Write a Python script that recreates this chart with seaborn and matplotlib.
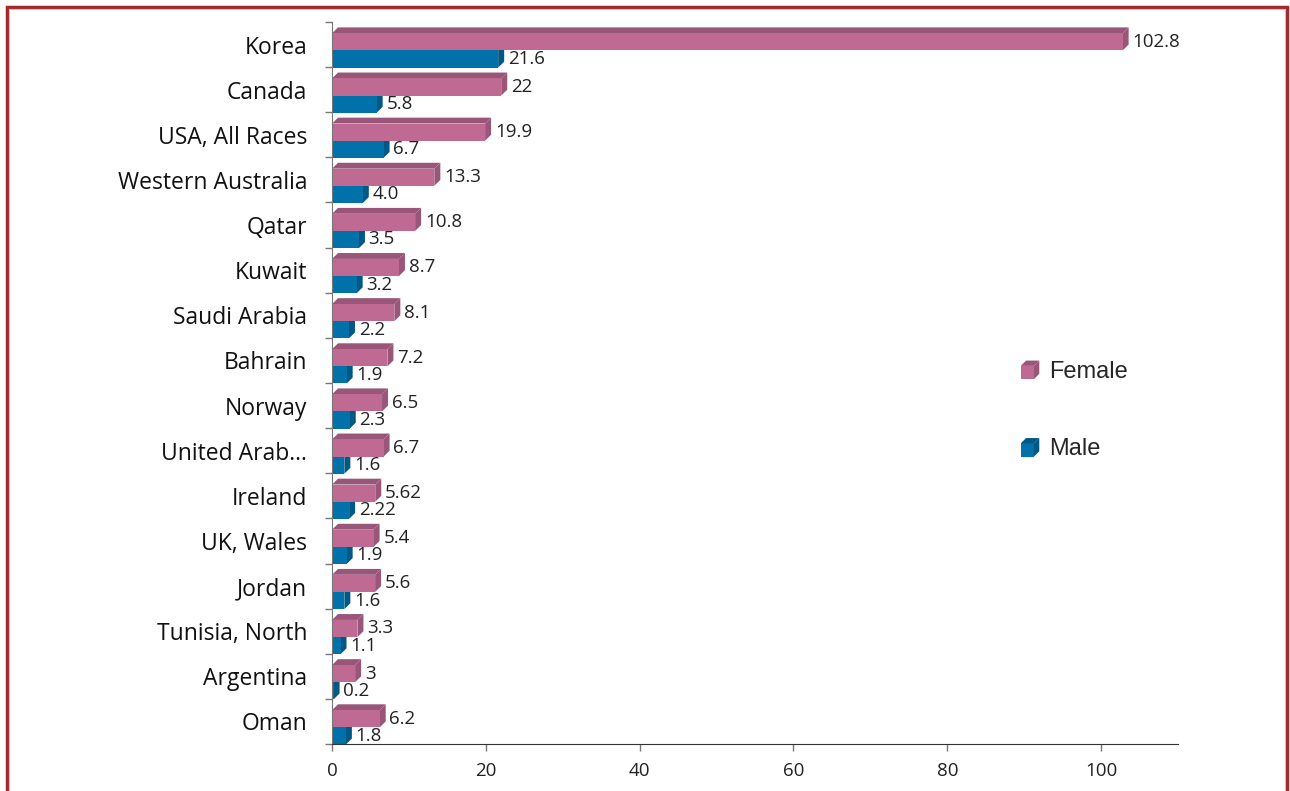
import pandas as pd
import seaborn as sns
import matplotlib.pyplot as plt
from matplotlib.patches import Rectangle, Polygon

# data
countries = ["Korea", "Canada", "USA, All Races", "Western Australia", "Qatar",
             "Kuwait", "Saudi Arabia", "Bahrain", "Norway", "United Arab\u2026",
             "Ireland", "UK, Wales", "Jordan", "Tunisia, North", "Argentina", "Oman"]
female = [102.8, 22, 19.9, 13.3, 10.8, 8.7, 8.1, 7.2, 6.5, 6.7, 5.62, 5.4, 5.6, 3.3, 3, 6.2]
male = [21.6, 5.8, 6.7, 4.0, 3.5, 3.2, 2.2, 1.9, 2.3, 1.6, 2.22, 1.9, 1.6, 1.1, 0.2, 1.8]
female_labels = ["102.8", "22", "19.9", "13.3", "10.8", "8.7", "8.1", "7.2", "6.5", "6.7",
                 "5.62", "5.4", "5.6", "3.3", "3", "6.2"]
male_labels = ["21.6", "5.8", "6.7", "4.0", "3.5", "3.2", "2.2", "1.9", "2.3", "1.6",
               "2.22", "1.9", "1.6", "1.1", "0.2", "1.8"]
sexes = ["Female", "Male"]

front_col = {"Female": "#BE6A92", "Male": "#0071A9"}
dark_col = {"Female": "#995679", "Male": "#005885"}

df = pd.DataFrame({
    "country": countries * 2,
    "sex": ["Female"] * len(countries) + ["Male"] * len(countries),
    "value": female + male,
})

sns.set_style("white")
plt.rcParams["font.family"] = ["Open Sans", "DejaVu Sans"]

fig = plt.figure(figsize=(12.9, 7.91), dpi=100)
ax = fig.add_axes([0.2574, 0.0594, 0.6558, 0.9128])

sns.barplot(data=df, y="country", x="value", hue="sex", hue_order=sexes,
            palette=front_col, width=0.76, orient="h", ax=ax, legend=False,
            saturation=1, zorder=2, linewidth=0)

# 3D depth in data units
dx, dy = 0.78, 0.13
labels = {"Female": female_labels, "Male": male_labels}
for sex, cont in zip(sexes, ax.containers):
    for p in cont:
        p.set_y(p.get_y() + dy)
        x0, y0, w, h = p.get_x(), p.get_y(), p.get_width(), p.get_height()
        top = Polygon([(x0, y0), (x0 + w, y0), (x0 + w + dx, y0 - dy), (x0 + dx, y0 - dy)],
                      closed=True, fc=dark_col[sex], ec="none", zorder=1)
        side = Polygon([(x0 + w, y0), (x0 + w + dx, y0 - dy), (x0 + w + dx, y0 + h - dy),
                        (x0 + w, y0 + h)], closed=True, fc=dark_col[sex], ec="none", zorder=1)
        ax.add_patch(top)
        ax.add_patch(side)
    ax.bar_label(cont, labels=labels[sex], padding=7, fontsize=13.5, color="#222222")

ax.set_xlim(0, 110)
ax.set_ylim(len(countries) - 0.5, -0.5)
ax.set_xticks([0, 20, 40, 60, 80, 100])
ax.set_yticks(range(len(countries)))
ax.set_yticks([i - 0.5 for i in range(len(countries) + 1)], minor=True)
ax.tick_params(axis="y", which="major", length=0, labelsize=16.5, colors="#111111", pad=18)
ax.tick_params(axis="y", which="minor", length=5, width=1, color="#777777", left=True)
ax.tick_params(axis="x", length=5, width=1, color="#777777", labelsize=13.5,
               labelcolor="#222222", bottom=True, pad=8)
ax.set_xlabel("")
ax.set_ylabel("")
for s in ["top", "right"]:
    ax.spines[s].set_visible(False)
ax.spines["left"].set_color("#777777")
ax.spines["bottom"].set_color("#333333")


class CubeHandler:
    def __init__(self, front, dark):
        self.front, self.dark = front, dark

    def legend_artist(self, legend, orig_handle, fontsize, handlebox):
        x0, y0 = -handlebox.xdescent, -handlebox.ydescent - 1
        s = handlebox.height * 0.8
        d = s * 0.4
        fr = Rectangle((x0, y0), s, s, fc=self.front, ec="none")
        tp = Polygon([(x0, y0 + s), (x0 + s, y0 + s), (x0 + s + d, y0 + s + d), (x0 + d, y0 + s + d)],
                     closed=True, fc=self.dark, ec="none")
        sd = Polygon([(x0 + s, y0), (x0 + s + d, y0 + d), (x0 + s + d, y0 + s + d), (x0 + s, y0 + s)],
                     closed=True, fc=self.dark, ec="none")
        for a in (fr, tp, sd):
            a.set_transform(handlebox.get_transform())
            handlebox.add_artist(a)
        return fr


handles = [Rectangle((0, 0), 1, 1, label=s) for s in sexes]
ax.legend(handles=handles, labels=sexes, frameon=False, loc="center left",
          bbox_to_anchor=(0.789, 0.462), labelspacing=2.35,
          handlelength=0.9, handletextpad=0.3,
          prop={"family": ["Liberation Sans"], "size": 17},
          handler_map={h: CubeHandler(front_col[s], dark_col[s]) for h, s in zip(handles, sexes)})

# outer frame
fig.patches.append(Rectangle((0.0054, -0.05), 0.9923, 1.041, transform=fig.transFigure,
                             fill=False, ec="#A3282B", lw=2.5))
fig.patches.append(Rectangle((0.0072, -0.05), 0.9887, 1.038, transform=fig.transFigure,
                             fill=False, ec="#E8B8B8", lw=0.8))

fig.savefig("out.png", dpi=100)
